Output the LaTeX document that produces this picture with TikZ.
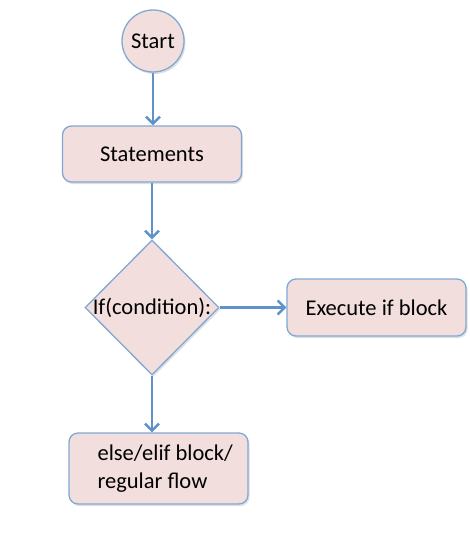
\documentclass[tikz,border=0pt]{standalone}
\usepackage{fontspec}
\setmainfont{Carlito}
\usepackage{pgf, tikz}
\usetikzlibrary{positioning}
\usetikzlibrary{arrows.meta,shapes.geometric,shadows}

\definecolor{boxfill}{RGB}{242,222,221}
\definecolor{boxline}{RGB}{128,168,212}
\definecolor{flowline}{RGB}{96,146,202}

\tikzset{
	flowbox/.style={draw=boxline, fill=boxfill, line width=1.3pt, rounded corners=9pt,
		minimum width=179pt, inner sep=0pt,
		drop shadow={shadow xshift=1.5pt, shadow yshift=-2pt, opacity=0.25, fill=gray}},
	flowarrow/.style={draw=flowline, line width=2.8pt, -{Straight Barb[length=7pt, width=14pt, line width=2.4pt]}}
}

\begin{document}
\begin{tikzpicture}[x=1pt, y=-1pt, font=\fontsize{22.5}{28}\selectfont]
		\useasboundingbox (0,0) rectangle (470,554);
		
		\node[circle, draw=boxline, fill=boxfill, line width=1.3pt, minimum size=62pt, inner sep=0pt,
			drop shadow={shadow xshift=1.5pt, shadow yshift=-2pt, opacity=0.25, fill=gray}] (start) at (153,41) {Start};
		
		\node[flowbox, minimum height=56pt] (stmts) at (152,154) {Statements};
		
		\node[diamond, aspect=1, draw=boxline, fill=boxfill, line width=1.3pt, minimum width=134pt, minimum height=135pt, inner sep=0pt,
			drop shadow={shadow xshift=1.5pt, shadow yshift=-2pt, opacity=0.25, fill=gray},
			label={center:If(condition):}] (cond) at (152,307.5) {};
		
		\node[flowbox, minimum height=57pt] (ifblock) at (376.5,307.5) {Execute if block};
		
		\node[flowbox, minimum height=71pt] (elseblock) at (158.5,468.5) {};
		\node[anchor=west, align=left, inner sep=0pt] (elsetext) at ([xshift=29pt]elseblock.west) {else/elif block/\\regular flow};
		
		\draw[flowarrow] (start.south) -- (start.south |- stmts.north);
		\draw[flowarrow] (stmts.south -| cond.north) -- (cond.north);
		\draw[flowarrow] (cond.east) -- (ifblock.west);
		\draw[flowarrow] (cond.south) -- (cond.south |- elseblock.north);
	\end{tikzpicture}
\end{document}
